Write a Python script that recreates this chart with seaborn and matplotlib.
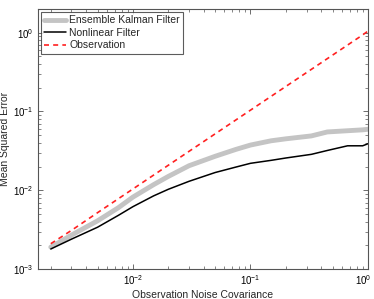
import numpy as np
import pandas as pd
import matplotlib
matplotlib.use("Agg")
import matplotlib.pyplot as plt
import matplotlib.transforms as mtransforms
import seaborn as sns

# observation noise covariance (x axis)
noise_cov = [0.002, 0.003, 0.005, 0.0075, 0.01, 0.015, 0.02, 0.03, 0.05,
             0.075, 0.1, 0.15, 0.2, 0.33, 0.45, 0.67, 0.9, 1.0]
# mean squared error for each method
enkf_mse = [0.0019, 0.0027, 0.0041, 0.0060, 0.0082, 0.0118, 0.0150, 0.0205, 0.0270,
            0.0330, 0.0375, 0.0425, 0.0450, 0.0490, 0.0550, 0.0570, 0.0585, 0.0595]
nonlinear_mse = [0.0018, 0.0024, 0.0034, 0.0048, 0.0062, 0.0085, 0.0103, 0.0130, 0.0168,
                 0.0197, 0.0220, 0.0240, 0.0257, 0.0286, 0.0320, 0.0367, 0.0367, 0.0390]
observation_mse = [0.0021, 0.0031, 0.0052, 0.0078, 0.0104, 0.0156, 0.0208, 0.0312, 0.052,
                   0.078, 0.104, 0.156, 0.208, 0.343, 0.468, 0.697, 0.936, 1.05]

sns.set_style("ticks")
plt.rcParams['font.family'] = ['Liberation Sans', 'DejaVu Sans']
plt.rcParams['mathtext.fontset'] = 'custom'
plt.rcParams['mathtext.rm'] = 'Liberation Sans'
plt.rcParams['mathtext.it'] = 'Liberation Sans:italic'

df = pd.DataFrame({'x': noise_cov, 'enkf': enkf_mse,
                   'nl': nonlinear_mse, 'obs': observation_mse})

fig = plt.figure(figsize=(3.74, 2.99), dpi=100)
ax = fig.add_axes([0.101, 0.100, 0.883, 0.870])

sns.lineplot(data=df, x='x', y='enkf', ax=ax, color='#c4c4c4', lw=3.5,
             label='Ensemble Kalman Filter')
sns.lineplot(data=df, x='x', y='nl', ax=ax, color='black', lw=1.1,
             label='Nonlinear Filter')
sns.lineplot(data=df, x='x', y='obs', ax=ax, color='#ff2020', lw=1.2,
             linestyle=(0, (3, 2.5)), label='Observation')

ax.set_xscale('log')
ax.set_yscale('log')
ax.set_xlim(0.00155, 1.0)
ax.set_ylim(1e-3, 2.0)
ax.set_xticks([1e-2, 1e-1, 1e0])
ax.set_xlabel('Observation Noise Covariance', fontsize=7.5, labelpad=2)
ax.set_ylabel('Mean Squared Error', fontsize=7.5, labelpad=2)

for s in ax.spines.values():
    s.set_color('#555555')
    s.set_linewidth(0.8)
ax.tick_params(which='both', direction='in', top=True, right=True,
               colors='#555555', labelcolor='black', labelsize=7)
ax.tick_params(which='major', length=3.5, width=0.6, pad=3)
ax.tick_params(which='minor', length=2, width=0.5)

# keep the 10^0 label inside the figure, as in the original
last = ax.get_xticklabels()[-1]
last.set_transform(last.get_transform() +
                   mtransforms.ScaledTranslation(-5 / 100, 0, fig.dpi_scale_trans))

leg = ax.legend(loc='upper left', fontsize=7.5, frameon=True, fancybox=False,
                borderpad=0.3, labelspacing=0.25, handlelength=2.1,
                handletextpad=0.3, borderaxespad=0.3)
leg.get_frame().set_edgecolor('#333333')
leg.get_frame().set_linewidth(0.8)

fig.savefig('out.png', dpi=100)
